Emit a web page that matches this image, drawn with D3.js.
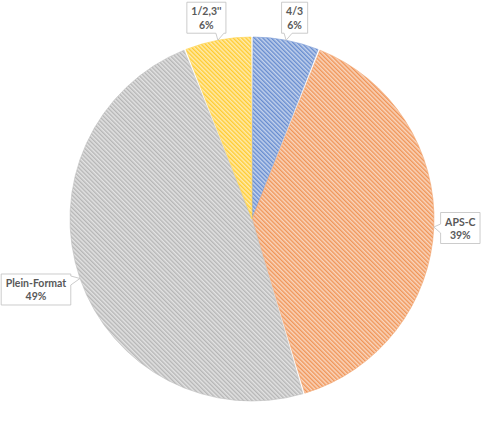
<!DOCTYPE html>
<html>
<head>
<meta charset="utf-8">
<script src="https://cdn.jsdelivr.net/npm/d3@7"></script>
<style>
  body { margin: 0; background: #fff; }
  text { font-family: Lato, "Open Sans", sans-serif; font-weight: bold; font-size: 10.5px; fill: #595959; }
</style>
</head>
<body>
<div id="chart"></div>
<script>
    // data
    var categories = ["4/3", "APS-C", "Plein-Format", "1/2,3''"];
    var values = [6.0, 39.4, 48.6, 6.0];
    var colors = ["#4472C4", "#ED7D31", "#A5A5A5", "#FFC000"];

    // label box offsets from the pointer tip (box centre)
    var labelOffsets = [[8.5, -22.5], [26.5, 1], [-44, 11], [-11.5, -22.5]];

    var width = 500, height = 437;
    var cx = 252, cy = 219, radius = 182;

    var svg = d3.select("#chart").append("svg")
        .attr("width", width)
        .attr("height", height);

    // hatch patterns (wide downward diagonal)
    var defs = svg.append("defs");
    colors.forEach(function(c, i) {
      var p = defs.append("pattern")
          .attr("id", "hatch" + i)
          .attr("patternUnits", "userSpaceOnUse")
          .attr("width", 3)
          .attr("height", 3)
          .attr("patternTransform", "rotate(-45)");
      p.append("rect")
          .attr("width", 3).attr("height", 3)
          .attr("fill", d3.interpolateRgb(c, "#fff")(0.68));
      p.append("line")
          .attr("x1", 0.75).attr("x2", 0.75)
          .attr("y1", 0).attr("y2", 3)
          .attr("stroke", d3.interpolateRgb(c, "#fff")(0.1))
          .attr("stroke-width", 1.2);
    });

    var pie = d3.pie().sort(null).value(function(d) { return d; });
    var arcs = pie(values);
    var arc = d3.arc().innerRadius(0).outerRadius(radius).padAngle(0.011);

    var g = svg.append("g").attr("transform", "translate(" + cx + "," + cy + ")");

    g.selectAll("path.slice")
      .data(arcs)
      .enter().append("path")
        .attr("class", "slice")
        .attr("d", arc)
        .attr("fill", function(d, i) { return "url(#hatch" + i + ")"; })
        .attr("stroke", function(d, i) { return d3.interpolateRgb(colors[i], "#fff")(0.3); })
        .attr("stroke-width", 0.6);

    // callout labels
    var total = d3.sum(values);
    var labels = svg.append("g").attr("class", "labels");

    arcs.forEach(function(d, i) {
      var mid = (d.startAngle + d.endAngle) / 2;
      var tip = [cx + radius * Math.sin(mid), cy - radius * Math.cos(mid)];
      var lines = [categories[i], Math.round(d.value / total * 100) + "%"];

      var lg = labels.append("g");
      var t1 = lg.append("text").attr("text-anchor", "middle").text(lines[0]);
      var t2 = lg.append("text").attr("text-anchor", "middle").text(lines[1]);
      var tw = Math.max(t1.node().getComputedTextLength(), t2.node().getComputedTextLength());

      var bw = tw + 9, bh = 31;
      var bx = tip[0] + labelOffsets[i][0], by = tip[1] + labelOffsets[i][1];
      var x0 = bx - bw / 2, x1 = bx + bw / 2, y0 = by - bh / 2, y1 = by + bh / 2;

      // box with pointer on the side facing the tip
      var pth = d3.path();
      pth.moveTo(x0, y0);
      pth.lineTo(x1, y0);
      if (tip[0] > x1) {
        var py = Math.max(y0 + 2, Math.min(y1 - 12, tip[1] - 6));
        pth.lineTo(x1, py); pth.lineTo(tip[0], tip[1]); pth.lineTo(x1, py + 9);
      }
      pth.lineTo(x1, y1);
      if (tip[1] > y1) {
        var px = Math.max(x0 + 2, Math.min(x1 - 10, tip[0] - 2));
        pth.lineTo(Math.max(px + 8, tip[0] + 4), y1);
        pth.lineTo(tip[0], tip[1]);
        pth.lineTo(Math.min(px, tip[0] - 2), y1);
      }
      pth.lineTo(x0, y1);
      if (tip[0] < x0) {
        var qy = Math.max(y0 + 12, Math.min(y1 - 2, tip[1] + 6));
        pth.lineTo(x0, qy); pth.lineTo(tip[0], tip[1]); pth.lineTo(x0, qy - 9);
      }
      pth.closePath();

      lg.insert("path", ":first-child")
          .attr("d", pth.toString())
          .attr("fill", "#fff")
          .attr("stroke", "#bfbfbf")
          .attr("stroke-width", 0.8);

      t1.attr("x", bx).attr("y", y0 + 13);
      t2.attr("x", bx).attr("y", y0 + 26.5);
    });
</script>
</body>
</html>
